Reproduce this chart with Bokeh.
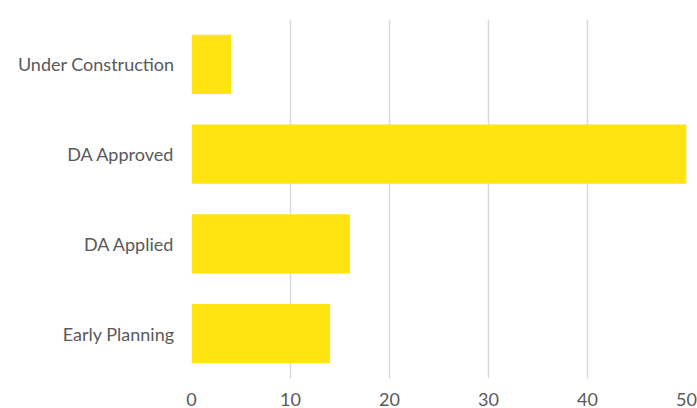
from bokeh.plotting import figure
from bokeh.models import FactorRange, Range1d, FixedTicker
from bokeh.embed import file_html
from bokeh.resources import INLINE

categories = ["Early Planning", "DA Applied", "DA Approved", "Under Construction"]
values = [14, 16, 50, 4]
x_ticks = [0, 10, 20, 30, 40, 50]

p = figure(width=697, height=408, output_backend="svg", toolbar_location=None,
           y_range=FactorRange(factors=categories, range_padding=0),
           x_range=Range1d(0, 50),
           min_border_left=191, min_border_right=11, min_border_top=19, min_border_bottom=30)

p.hbar(y=categories, right=values, left=0, height=0.66, color="#FFE412", line_color=None)

p.outline_line_color = None
p.background_fill_color = "white"
p.border_fill_color = "white"

p.ygrid.grid_line_color = None
p.xgrid.grid_line_color = "#D9D9D9"
p.xgrid.grid_line_width = 1.5
p.xaxis.ticker = FixedTicker(ticks=x_ticks)

for ax in (p.xaxis, p.yaxis):
    ax.axis_line_color = None
    ax.major_tick_line_color = None
    ax.minor_tick_line_color = None
    ax.major_tick_out = 0
    ax.major_tick_in = 0
    ax.minor_tick_out = 0
    ax.major_label_text_font = "Lato"
    ax.major_label_text_font_size = "18px"
    ax.major_label_text_color = "#595959"

p.yaxis.major_label_standoff = 17
p.xaxis.major_label_standoff = 14

open("out.html", "w").write(file_html(p, INLINE))
